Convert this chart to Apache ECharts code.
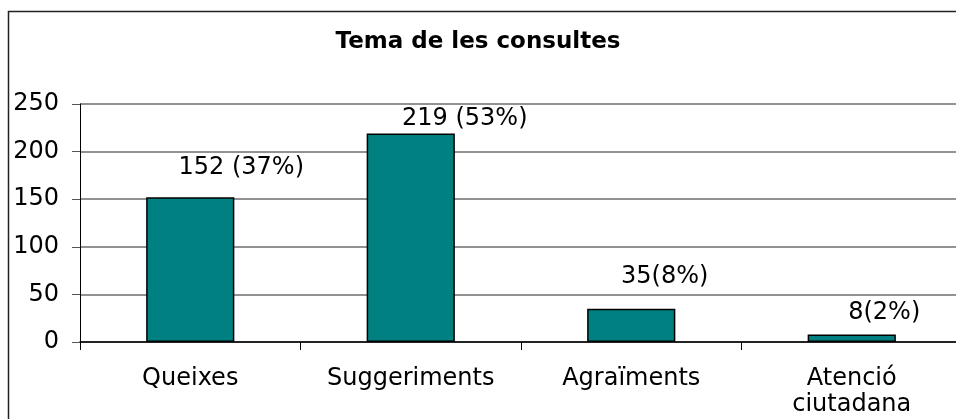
<!DOCTYPE html>
<html>
<head>
<meta charset="utf-8">
<script src="https://cdn.jsdelivr.net/npm/echarts@6/dist/echarts.min.js"></script>
<style>
html,body{margin:0;padding:0;background:#fff;}
#chart{width:956px;height:419px;}
</style>
</head>
<body>
<div id="chart"></div>
<script>
const titleText = "Tema de les consultes";
const categories = ["Queixes", "Suggeriments", "Agraïments", "Atenció\nciutadana"];
const values = [152, 219, 35, 8];
const labelTexts = ["152 (37%)", "219 (53%)", "35(8%)", "8(2%)"];
const yTicks = [0, 50, 100, 150, 200, 250];

const labelNudge = [[51, -18], [54, -3], [33.5, -20], [32.5, -10]];
const FONT = "DejaVu Sans";

const chart = echarts.init(document.getElementById('chart'), null, {renderer: 'canvas'});
chart.setOption({
  animation: false,
  backgroundColor: '#fff',
  title: {
    text: titleText, left: 'center', top: 26,
    textStyle: {fontFamily: FONT, fontSize: 23, fontWeight: 'bold', color: '#000'}
  },
  graphic: [{
    type: 'rect', shape: {x: 8.5, y: 11.5, width: 1000, height: 1000},
    style: {fill: 'none', stroke: '#222', lineWidth: 1.5}, silent: true, z: 100
  }],
  grid: {left: 80, top: 104, height: 238, width: 882, containLabel: false, outerBoundsMode: 'none'},
  xAxis: {
    type: 'category', data: categories,
    axisLine: {show: true, lineStyle: {color: '#000', width: 1.5}},
    axisTick: {show: true, length: 8, alignWithLabel: false, lineStyle: {color: '#000', width: 1}},
    axisLabel: {fontFamily: FONT, fontSize: 24, color: '#000', margin: 24, lineHeight: 26, interval: 0,
      rich: {}},
    splitLine: {show: false}
  },
  yAxis: {
    type: 'value', min: yTicks[0], max: yTicks[yTicks.length - 1], interval: 50,
    axisLine: {show: true, lineStyle: {color: '#000', width: 1}},
    axisTick: {show: true, length: 8, lineStyle: {color: '#555', width: 1}},
    axisLabel: {fontFamily: FONT, fontSize: 24, color: '#000', margin: 21},
    splitLine: {show: true, lineStyle: {color: '#6e6e6e', width: 1.5}}
  },
  series: [{
    type: 'bar', barWidth: '40%',
    data: values.map((v, i) => ({
      value: v,
      label: {
        show: true, position: 'top', distance: 0, offset: labelNudge[i],
        formatter: labelTexts[i],
        fontFamily: FONT, fontSize: 24, color: '#000'
      }
    })),
    itemStyle: {color: '#008080', borderColor: '#000', borderWidth: 1.5}
  }]
});
</script>
</body>
</html>
